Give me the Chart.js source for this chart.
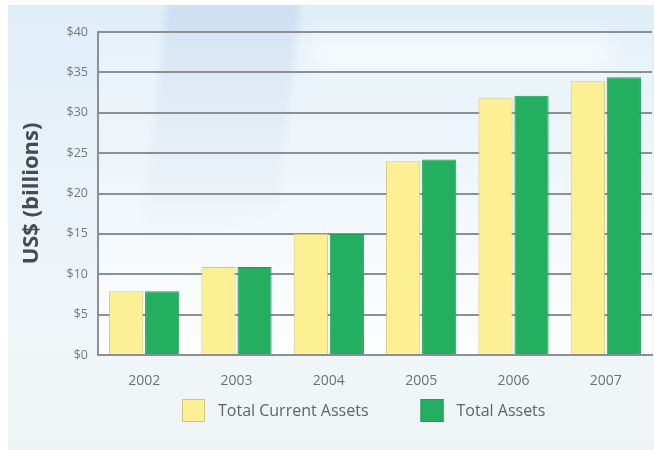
<!DOCTYPE html>
<html>
<head>
<meta charset="utf-8">
<title>Total Assets</title>
<script src="https://cdn.jsdelivr.net/npm/chart.js@4.4.1/dist/chart.umd.min.js"></script>
<style>
  html, body { margin: 0; padding: 0; background: #fff; }
  #chart { display: block; }
</style>
</head>
<body>
<canvas id="chart" width="654" height="452"></canvas>
<script>
const years = ['2002', '2003', '2004', '2005', '2006', '2007'];
const currentAssets = [7.9, 10.9, 15.0, 24.0, 31.8, 33.9];
const totalAssets = [7.9, 10.9, 15.0, 24.2, 32.1, 34.4];
const yTicks = [0, 5, 10, 15, 20, 25, 30, 35, 40];

const labelFont = '"Open Sans", "Noto Sans", sans-serif';

// light blue panel with a soft glass streak behind the plot
const panelBackground = {
    id: 'panelBackground',
    beforeDraw(chart) {
        const ctx = chart.ctx;
        const area = chart.chartArea;
        ctx.save();
        ctx.fillStyle = '#ffffff';
        ctx.fillRect(0, 0, chart.width, chart.height);

        const g = ctx.createLinearGradient(0, 5, 0, 450);
        g.addColorStop(0, '#e0eef8');
        g.addColorStop(0.45, '#eaf3f9');
        g.addColorStop(0.75, '#f1f6f9');
        g.addColorStop(1, '#eef3f6');
        ctx.fillStyle = g;
        ctx.fillRect(8, 5, chart.width - 8, 445);

        ctx.save();
        ctx.beginPath();
        ctx.rect(8, 5, chart.width - 8, 445);
        ctx.clip();

        // whiter glare across the upper right
        ctx.filter = 'blur(12px)';
        ctx.fillStyle = 'rgba(255,255,255,0.7)';
        ctx.fillRect(310, 36, 300, 34);

        // slanted glass band
        ctx.filter = 'blur(3px)';
        const band = ctx.createLinearGradient(0, 5, 0, 250);
        band.addColorStop(0, 'rgba(160,188,225,0.30)');
        band.addColorStop(0.75, 'rgba(175,198,228,0.14)');
        band.addColorStop(1, 'rgba(175,198,228,0)');
        ctx.fillStyle = band;
        ctx.beginPath();
        ctx.moveTo(168, 0);
        ctx.lineTo(300, 0);
        ctx.lineTo(278, 210);
        ctx.lineTo(140, 250);
        ctx.closePath();
        ctx.fill();
        ctx.restore();

        // plot area brightens towards the baseline
        const plot = ctx.createLinearGradient(0, area.top, 0, area.bottom);
        plot.addColorStop(0, 'rgba(255,255,255,0.15)');
        plot.addColorStop(0.5, 'rgba(255,255,255,0.35)');
        plot.addColorStop(1, 'rgba(255,255,255,0.8)');
        ctx.fillStyle = plot;
        ctx.fillRect(area.left, area.top, area.right - area.left, area.bottom - area.top);
        ctx.restore();
    }
};

// legend row under the year labels
const bottomLegend = {
    id: 'bottomLegend',
    afterDraw(chart) {
        const ctx = chart.ctx;
        const box = 23;
        const top = 399;
        let x = 182;
        ctx.save();
        ctx.font = '16px ' + labelFont;
        ctx.textBaseline = 'middle';
        chart.data.datasets.forEach(ds => {
            ctx.fillStyle = ds.backgroundColor;
            ctx.fillRect(x, top, box, box);
            ctx.strokeStyle = ds.borderColor;
            ctx.lineWidth = 1;
            ctx.strokeRect(x + 0.5, top + 0.5, box - 1, box - 1);
            ctx.fillStyle = '#606467';
            ctx.fillText(ds.label, x + box + 13, top + box / 2 + 1);
            x += box + 13 + ctx.measureText(ds.label).width + 52;
        });
        ctx.restore();
    }
};

new Chart(document.getElementById('chart'), {
    type: 'bar',
    data: {
        labels: years,
        datasets: [
            {
                label: 'Total Current Assets',
                data: currentAssets,
                backgroundColor: '#fcef94',
                borderColor: '#d6c67e',
                borderWidth: 1
            },
            {
                label: 'Total Assets',
                data: totalAssets,
                backgroundColor: '#24ae5f',
                borderColor: '#1e9d54',
                borderWidth: 1
            }
        ]
    },
    options: {
        responsive: false,
        animation: false,
        devicePixelRatio: 1,
        layout: { padding: { top: 32, left: 8, right: 2, bottom: 0 } },
        datasets: {
            bar: { categoryPercentage: 0.78, barPercentage: 0.95 }
        },
        plugins: {
            legend: { display: false },
            tooltip: { enabled: false }
        },
        scales: {
            x: {
                grid: { display: false },
                border: { display: true, color: '#8a9096', width: 2 },
                ticks: {
                    color: '#6f7275',
                    padding: 10,
                    font: { family: labelFont, size: 14 }
                },
                afterFit(scale) { scale.height = 97; }
            },
            y: {
                min: 0,
                max: 40,
                afterBuildTicks(scale) {
                    scale.ticks = yTicks.map(v => ({ value: v }));
                },
                grid: { color: '#8a9096', lineWidth: 2, drawTicks: false },
                border: { display: true, color: '#8a9096', width: 2 },
                ticks: {
                    color: '#76797c',
                    padding: 10,
                    font: { family: labelFont, size: 12.5 },
                    callback: v => '$' + v
                },
                title: {
                    display: true,
                    text: 'US$ (billions)',
                    color: '#464b51',
                    padding: { top: 11, bottom: 0 },
                    font: { family: labelFont, size: 22, weight: 'bold' }
                },
                afterFit(scale) { scale.width = 90; }
            }
        }
    },
    plugins: [panelBackground, bottomLegend]
});
</script>
</body>
</html>
